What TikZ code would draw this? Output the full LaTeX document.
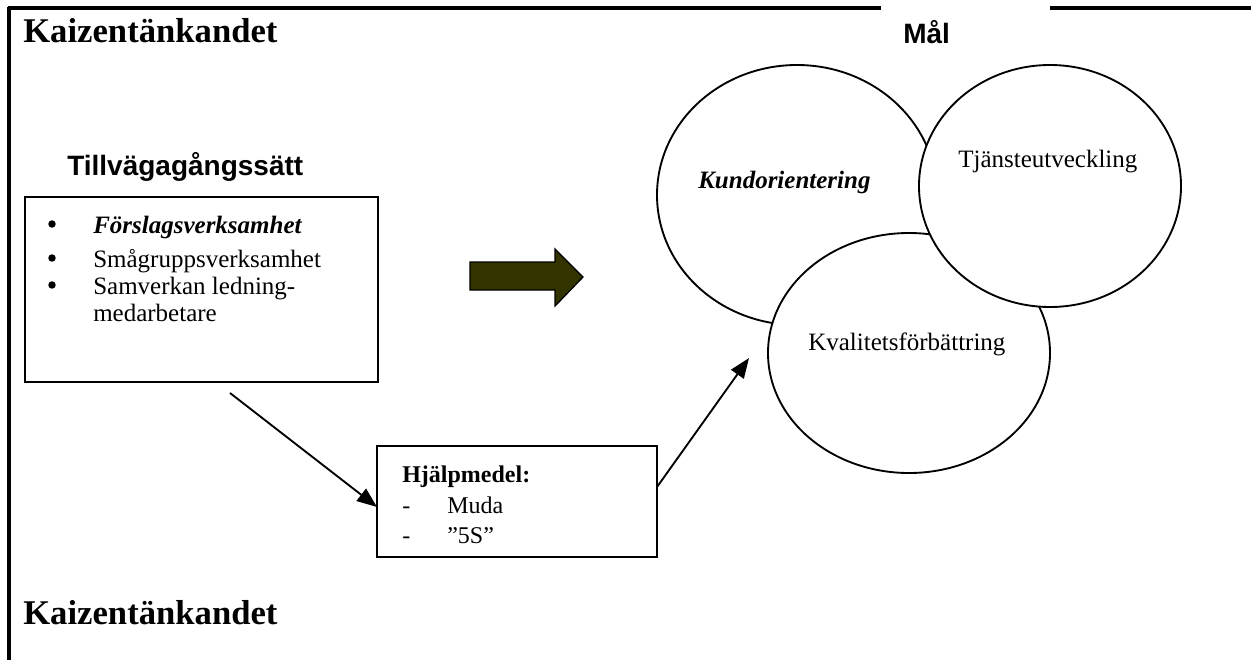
\documentclass[tikz,border=0pt]{standalone}
\usepackage{fontspec}
\setmainfont{Liberation Serif}
\newfontfamily\arialfont{Liberation Sans}
\usetikzlibrary{shapes.geometric,arrows.meta}

\definecolor{olivearrow}{RGB}{51,51,0}

\tikzset{
  frameline/.style={line width=2.3pt},
  box/.style={draw, line width=1.4pt, rectangle, inner sep=0pt},
  goal/.style={draw, line width=1.4pt, ellipse, fill=white, inner sep=0pt},
  txt/.style={anchor=base west, inner sep=0pt, font=\fontsize{18.75pt}{22pt}\selectfont},
  smalltxt/.style={anchor=base west, inner sep=0pt, font=\fontsize{18pt}{21pt}\selectfont},
  title/.style={anchor=base west, inner sep=0pt, font=\fontsize{26pt}{30pt}\selectfont\bfseries},
  heading/.style={anchor=base west, inner sep=0pt, font=\fontsize{21pt}{25pt}\selectfont\arialfont\bfseries},
  bulletdot/.style={circle, fill=black, inner sep=0pt, minimum size=5.6pt},
  link/.style={line width=1.4pt, -{Triangle[length=15pt, width=11.5pt]}},
}

\begin{document}
\begin{tikzpicture}[x=0.75pt, y=-0.75pt]
\useasboundingbox (0,0) rectangle (1251,660);

% outer frame: left edge and broken top edge
\draw[frameline] (9,7) -- (9,660);
\draw[frameline] (7.9,8) -- (881,8);
\draw[frameline] (1050,8) -- (1251,8);

% titles and headings
\node[title] (titletop) at (23,43) {Kaizentänkandet};
\node[title] (titlebottom) at (23,624) {Kaizentänkandet};
\node[heading] (method) at (67,175) {Tillvägagångssätt};
\node[heading] (goalhead) at (903,44) {Mål};

% box with working methods
\node[box, minimum width=264.75pt, minimum height=138.75pt] (methods) at (201.5,289.5) {};
\node[bulletdot] (b1) at (52,224) {};
\node[bulletdot] (b2) at (52,258) {};
\node[bulletdot] (b3) at (52,285) {};
\node[txt, font=\fontsize{18.75pt}{22pt}\selectfont\bfseries\itshape] (m1) at (93,233) {Förslagsverksamhet};
\node[txt] (m2) at (93,267) {Smågruppsverksamhet};
\node[txt] (m3) at (93,294) {Samverkan ledning-};
\node[txt] (m4) at (93,321) {medarbetare};

% box with tools
\node[box, minimum width=210pt, minimum height=83.25pt] (tools) at (517,501.5) {};
\node[smalltxt, font=\fontsize{18pt}{21pt}\selectfont\bfseries] (t0) at (402,482) {Hjälpmedel:};
\node[smalltxt] (d1) at (402,513) {-};
\node[smalltxt] (t1) at (447,513) {Muda};
\node[smalltxt] (d2) at (402,543) {-};
\node[smalltxt] (t2) at (447,543) {”5S”};

% block arrow towards the goals
\filldraw[fill=olivearrow, draw=black, line width=1pt]
  (470,262) -- (555,262) -- (555,249) -- (583,277) -- (555,306) -- (555,290) -- (470,290) -- cycle;

% goal circles
\node[goal, minimum width=210pt, minimum height=195pt] (kund) at (797,195) {};
\node[goal, minimum width=211.5pt, minimum height=180pt] (kval) at (909,353) {};
\node[goal, minimum width=196.5pt, minimum height=181.5pt] (tjanst) at (1050,186) {};
\node[txt, font=\fontsize{18.75pt}{22pt}\selectfont\bfseries\itshape] (kundtxt) at (698,188) {Kundorientering};
\node[txt] (tjansttxt) at (958,167) {Tjänsteutveckling};
\node[txt] (kvaltxt) at (808,350) {Kvalitetsförbättring};

% connectors
\coordinate (start1) at (230,393);
\coordinate (end1) at (377,507);
\coordinate (start2) at (657,487);
\coordinate (end2) at (749,358);
\draw[link] (start1) -- (end1);
\draw[link] (start2) -- (end2);
\end{tikzpicture}
\end{document}
